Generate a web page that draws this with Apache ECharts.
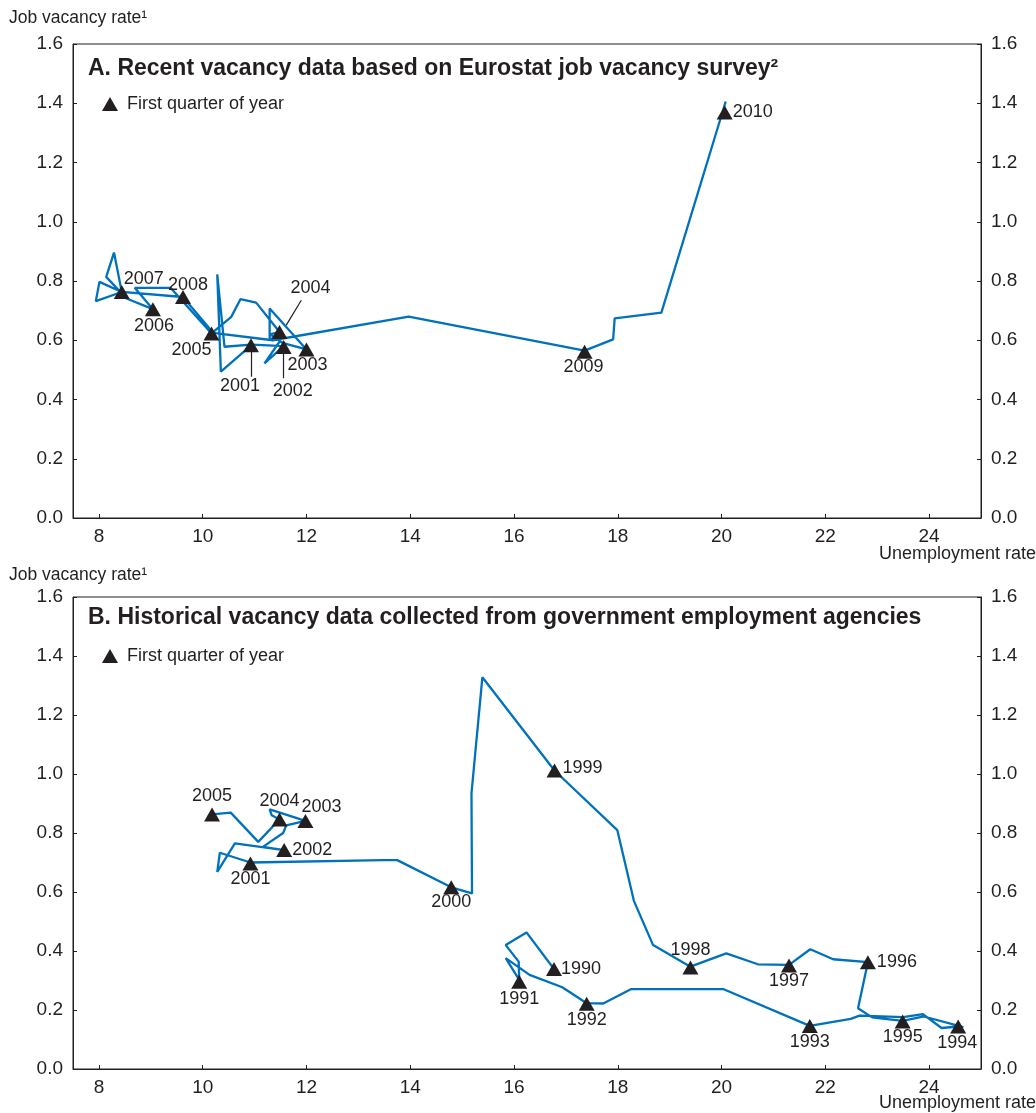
<!DOCTYPE html>
<html>
<head>
<meta charset="utf-8">
<script src="https://cdn.jsdelivr.net/npm/echarts@6/dist/echarts.min.js"></script>
<style>
html,body{margin:0;padding:0;background:#fff;}
#chart{width:1036px;height:1113px;}
</style>
</head>
<body>
<div id="chart"></div>
<script>
// ---------- data ----------
const xTicks = [8, 10, 12, 14, 16, 18, 20, 22, 24];

// Panel A: line path (unemployment rate, vacancy rate)
const aLine = [
  [10.93,0.585],[10.42,0.578],[10.28,0.822],[10.35,0.494],[10.95,0.585],
  [11.56,0.580],[11.19,0.522],[11.50,0.600],[11.29,0.606],[11.29,0.707],
  [12.00,0.569],[11.55,0.590],[11.30,0.620],[11.48,0.628],[11.03,0.727],
  [10.73,0.739],[10.55,0.679],[10.17,0.623],[9.38,0.777],[8.69,0.777],
  [9.04,0.705],[8.53,0.741],[8.14,0.814],[8.29,0.896],[8.44,0.763],
  [8.01,0.797],[7.94,0.732],[8.44,0.763],[9.62,0.746],[10.20,0.625],
  [11.35,0.600],[13.97,0.680],[17.36,0.565],[17.91,0.603],[17.94,0.674],
  [18.84,0.693],[20.08,1.406]
];
// Panel A: first-quarter markers
const aYears = ['2001','2002','2003','2004','2005','2006','2007','2008','2009','2010'];
const aU = [10.93, 11.56, 12.00, 11.48, 10.17, 9.04, 8.44, 9.62, 17.36, 20.06];
const aV = [0.583, 0.577, 0.569, 0.628, 0.623, 0.705, 0.763, 0.746, 0.561, 1.369];
// Panel A: leader lines for labels
const aLeaders = [
  [[10.93,0.561],[10.93,0.477]],
  [[11.56,0.556],[11.56,0.472]],
  [[11.61,0.651],[11.90,0.735]]
];

// Panel B: line path
const bLine = [
  [16.77,0.339],[16.24,0.463],[15.84,0.420],[16.09,0.364],[16.10,0.302],
  [15.84,0.376],[16.30,0.319],[16.93,0.277],[17.40,0.223],[17.72,0.222],
  [18.26,0.271],[20.03,0.271],[21.70,0.146],[22.49,0.170],[22.66,0.181],
  [23.50,0.176],[23.88,0.186],[24.24,0.139],[24.56,0.144],[24.66,0.142],
  [23.90,0.178],[23.49,0.163],[22.90,0.175],[22.63,0.206],[22.82,0.362],
  [22.15,0.372],[21.71,0.406],[21.30,0.353],[20.70,0.355],[20.09,0.392],
  [19.40,0.347],[18.68,0.420],[18.31,0.570],[17.99,0.810],[16.78,1.012],
  [15.39,1.328],[15.18,0.934],[15.19,0.595],[14.79,0.616],[13.75,0.708],
  [13.48,0.708],[10.92,0.700],[10.33,0.733],[10.28,0.668],[10.62,0.765],
  [11.57,0.742],[11.16,0.753],[11.55,0.800],[11.61,0.826],[11.98,0.841],
  [11.29,0.880],[11.33,0.860],[11.48,0.846],[11.07,0.770],[10.54,0.869],
  [10.18,0.863]
];
// Panel B: first-quarter markers
const bYears = ['1990','1991','1992','1993','1994','1995','1996','1997','1998','1999','2000','2001','2002','2003','2004','2005'];
const bU = [16.77, 16.10, 17.40, 21.70, 24.56, 23.49, 22.82, 21.30, 19.40, 16.78, 14.79, 10.92, 11.57, 11.98, 11.48, 10.18];
const bV = [0.339, 0.296, 0.221, 0.146, 0.144, 0.161, 0.362, 0.351, 0.344, 1.012, 0.616, 0.697, 0.742, 0.841, 0.846, 0.863];

// ---------- styles ----------
const FONT = '"Liberation Sans", Arial, Helvetica, sans-serif';
const INK = '#231f20';
const BLUE = '#0071bc';
const LEGEND_NAME = 'First quarter of year';

// label offsets (px, text centre relative to marker centre)
const aLabelOffset = {
  '2001':[-11,41],'2002':[9,44],'2003':[1,16],'2004':[31,-44],'2005':[-20,17],
  '2006':[1,17],'2007':[22,-13],'2008':[5,-12],'2009':[-1,15],'2010':[28,0]
};
const bLabelOffset = {
  '1990':[27,0],'1991':[0,17],'1992':[0,16],'1993':[0,16],'1994':[-1,17],
  '1995':[0,16],'1996':[29,0],'1997':[0,16],'1998':[0,-17],'1999':[28,-2],
  '2000':[0,15],'2001':[0,16],'2002':[28,0],'2003':[16,-14],'2004':[0,-18],'2005':[0,-18]
};

function markerData(years, u, v, offs) {
  return years.map((y, i) => ({ name: y, value: [u[i], v[i]], label: { offset: offs[y] } }));
}

function xAxis(gridIndex) {
  return {
    type: 'value', gridIndex, min: 7.5, max: 25,
    axisLine: { show: true, onZero: false, lineStyle: { color: INK, width: 1 } },
    axisTick: { show: true, inside: true, length: 4, customValues: xTicks, lineStyle: { color: INK } },
    axisLabel: { customValues: xTicks, color: INK, fontSize: 19, fontFamily: FONT, margin: 9 },
    splitLine: { show: false }
  };
}
function yAxis(gridIndex, position) {
  return {
    type: 'value', gridIndex, position, min: 0, max: 1.6, interval: 0.2,
    axisLine: { show: true, onZero: false, lineStyle: { color: INK, width: 1 } },
    axisTick: { show: true, inside: true, length: 4, lineStyle: { color: INK } },
    axisLabel: { color: INK, fontSize: 19, fontFamily: FONT, margin: 10, formatter: v => v.toFixed(1) },
    splitLine: { show: false }
  };
}
function textTitle(text, pos, size, bold) {
  return Object.assign({
    text, padding: 0,
    textStyle: { color: INK, fontSize: size, fontWeight: bold ? 'bold' : 'normal', fontFamily: FONT }
  }, pos);
}
function legend(top) {
  return {
    data: [LEGEND_NAME], left: 102, top, padding: 0, icon: 'triangle',
    itemWidth: 16, itemHeight: 14, itemGap: 10, selectedMode: false,
    itemStyle: { color: INK, opacity: 1 },
    textStyle: { color: INK, fontSize: 18, fontFamily: FONT, padding: [0, 0, 0, 4] }
  };
}
const markerLabel = {
  show: true, position: 'inside', formatter: p => p.name,
  color: INK, opacity: 1, fontSize: 18, fontFamily: FONT, align: 'center', verticalAlign: 'middle'
};

const option = {
  animation: false,
  backgroundColor: '#ffffff',
  title: [
    textTitle('A. Recent vacancy data based on Eurostat job vacancy survey\u00B2', { left: 88, top: 57 }, 23, true),
    textTitle('B. Historical vacancy data collected from government employment agencies', { left: 88, top: 606 }, 23, true),
    textTitle('Job vacancy rate\u00B9', { left: 9, top: 9 }, 17.5, false),
    textTitle('Job vacancy rate\u00B9', { left: 9, top: 566 }, 17.5, false),
    textTitle('Unemployment rate', { right: 0, top: 545 }, 18, false),
    textTitle('Unemployment rate', { right: 0, top: 1094 }, 18, false)
  ],
  legend: [legend(95), legend(647)],
  grid: [
    { left: 73, right: 55, top: 44, height: 474, show: true, borderColor: INK, borderWidth: 1 },
    { left: 73, right: 55, top: 597, height: 472, show: true, borderColor: INK, borderWidth: 1 }
  ],
  xAxis: [xAxis(0), xAxis(1)],
  yAxis: [yAxis(0, 'left'), yAxis(0, 'right'), yAxis(1, 'left'), yAxis(1, 'right')],
  series: [
    {
      type: 'line', xAxisIndex: 0, yAxisIndex: 0, data: aLine, showSymbol: false, symbol: 'none',
      lineStyle: { color: BLUE, width: 2.3 }, z: 2, silent: true
    },
    {
      type: 'scatter', name: LEGEND_NAME, xAxisIndex: 0, yAxisIndex: 0,
      data: markerData(aYears, aU, aV, aLabelOffset),
      symbol: 'triangle', symbolSize: [16, 14], itemStyle: { color: INK, opacity: 1 }, z: 3,
      label: markerLabel,
      markLine: {
        silent: true, symbol: ['none', 'none'], label: { show: false },
        lineStyle: { color: INK, width: 1.2, type: 'solid', opacity: 1 },
        data: aLeaders.map(s => [{ coord: s[0] }, { coord: s[1] }])
      }
    },
    {
      type: 'line', xAxisIndex: 1, yAxisIndex: 2, data: bLine, showSymbol: false, symbol: 'none',
      lineStyle: { color: BLUE, width: 2.3 }, z: 2, silent: true
    },
    {
      type: 'scatter', name: LEGEND_NAME, xAxisIndex: 1, yAxisIndex: 2,
      data: markerData(bYears, bU, bV, bLabelOffset),
      symbol: 'triangle', symbolSize: [16, 14], itemStyle: { color: INK, opacity: 1 }, z: 3,
      label: markerLabel
    }
  ]
};

const chart = echarts.init(document.getElementById('chart'), null, { renderer: 'canvas' });
chart.setOption(option);
</script>
</body>
</html>
